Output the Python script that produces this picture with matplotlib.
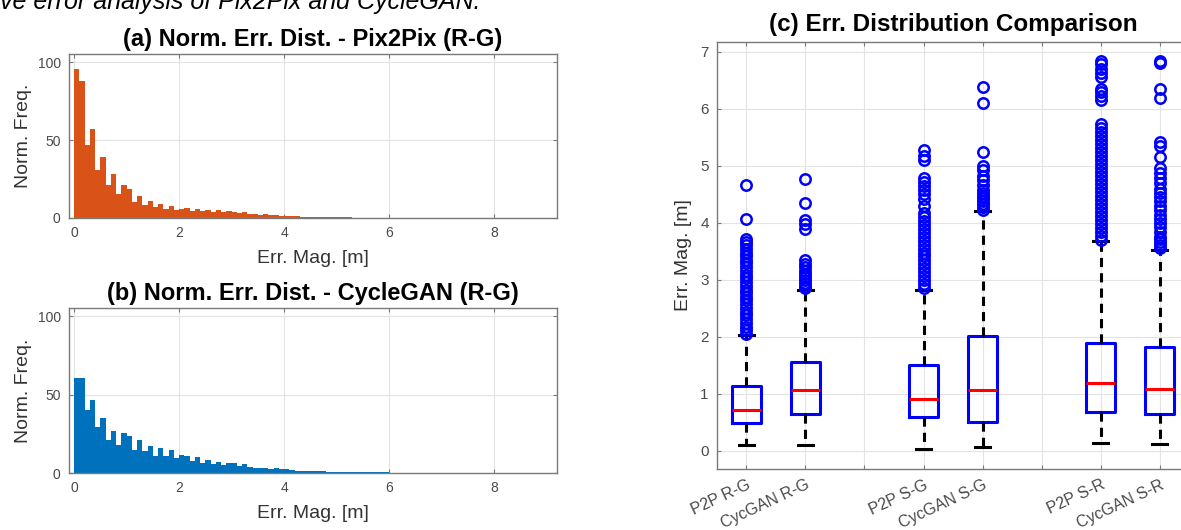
import numpy as np
import matplotlib
matplotlib.use("Agg")
import matplotlib.pyplot as plt

plt.rcParams['font.family'] = ['Liberation Sans', 'DejaVu Sans']

# =====================================================
# DADOS - HISTOGRAMAS (largura de bin 0.1 m)
# =====================================================
bin_width = 0.1
p2p_rg_freq = [
    95.3, 87.8, 46.5, 57.2, 31.0, 39.0, 21.4, 28.3, 15.6, 21.0,
    18.8, 10.0, 14.3, 8.6, 10.7, 7.0, 9.0, 6.0, 8.0, 5.4,
    6.0, 6.2, 4.6, 5.6, 4.2, 5.2, 4.0, 5.0, 3.8, 4.2,
    3.6, 3.2, 3.6, 2.6, 2.6, 2.2, 2.4, 1.8, 1.7, 1.5,
    1.3, 1.2, 1.0, 0.9, 0.8, 0.8, 0.7, 0.6, 0.6, 0.5,
    0.45, 0.4, 0.35, 0.3, 0.3, 0.25, 0.25, 0.2, 0.2, 0.2,
    0.15, 0.15, 0.15, 0.1, 0.1, 0.1, 0.1, 0.08, 0.08, 0.08,
    0.05, 0.05, 0.05, 0.05, 0.05, 0.05, 0.05, 0.05, 0.05, 0.05,
    0.03, 0.03, 0.03, 0.03, 0.03, 0.03, 0.03, 0.03, 0.03, 0.03, 0.03,
]
cyc_rg_freq = [
    60.7, 60.7, 40.0, 46.8, 29.2, 34.9, 21.2, 26.9, 18.1, 25.4,
    23.3, 14.9, 21.2, 13.9, 17.0, 11.1, 16.0, 10.7, 14.5, 9.7,
    11.5, 11.0, 7.5, 10.0, 6.5, 8.0, 5.5, 6.8, 5.0, 6.5,
    6.5, 4.2, 6.0, 3.6, 3.5, 3.0, 3.2, 2.4, 3.0, 2.4,
    2.6, 2.2, 1.4, 1.3, 1.2, 1.1, 1.0, 1.0, 0.9, 0.9,
    0.8, 0.8, 0.7, 0.7, 0.6, 0.6, 0.5, 0.5, 0.5, 0.4,
    0.3, 0.2, 0.15, 0.1, 0.1, 0.08, 0.08, 0.06, 0.06, 0.05,
    0.04, 0.04, 0.04, 0.04, 0.04, 0.04, 0.04, 0.04, 0.04, 0.04,
    0.03, 0.03, 0.03, 0.03, 0.03, 0.03, 0.03, 0.03, 0.03, 0.03, 0.03,
]

# =====================================================
# DADOS - BOXPLOT
# =====================================================
box_labels = ['P2P R-G', 'CycGAN R-G', 'P2P S-G', 'CycGAN S-G', 'P2P S-R', 'CycGAN S-R']
box_pos = [1, 2, 4, 5, 7, 8]
tick_pos = [1, 2, 3, 4, 5, 6, 7, 8]
tick_labels = ['P2P R-G', 'CycGAN R-G', '', 'P2P S-G', 'CycGAN S-G', '', 'P2P S-R', 'CycGAN S-R']

q1 = [0.49, 0.65, 0.60, 0.51, 0.68, 0.65]
med = [0.72, 1.06, 0.91, 1.06, 1.19, 1.08]
q3 = [1.14, 1.55, 1.51, 2.02, 1.89, 1.82]
whis_lo = [0.10, 0.10, 0.03, 0.06, 0.14, 0.12]
whis_hi = [2.03, 2.83, 2.82, 4.20, 3.68, 3.53]

outliers = [
    [2.05, 2.12, 2.18, 2.25, 2.31, 2.38, 2.44, 2.51, 2.57, 2.64, 2.70, 2.77, 2.83,
     2.90, 2.96, 3.03, 3.09, 3.16, 3.22, 3.29, 3.35, 3.42, 3.48, 3.55, 3.61, 3.66,
     3.72, 4.07, 4.67],
    [2.85, 2.90, 2.95, 3.00, 3.05, 3.10, 3.15, 3.22, 3.28, 3.35, 3.90, 3.98, 4.05,
     4.35, 4.77],
    [2.85, 2.92, 2.99, 3.06, 3.13, 3.20, 3.27, 3.34, 3.41, 3.48, 3.55, 3.62, 3.69,
     3.76, 3.83, 3.90, 3.97, 4.04, 4.11, 4.18, 4.30, 4.42, 4.50, 4.58, 4.65, 4.72,
     4.79, 5.10, 5.18, 5.28],
    [4.23, 4.28, 4.33, 4.38, 4.43, 4.48, 4.53, 4.58, 4.66, 4.75, 4.83, 4.92, 4.99,
     5.24, 6.10, 6.38],
    [3.70, 3.77, 3.84, 3.91, 3.98, 4.05, 4.12, 4.19, 4.26, 4.33, 4.40, 4.47, 4.54,
     4.61, 4.68, 4.75, 4.82, 4.89, 4.96, 5.03, 5.10, 5.17, 5.24, 5.31, 5.38, 5.45,
     5.52, 5.59, 5.66, 5.73, 6.16, 6.22, 6.29, 6.35, 6.56, 6.63, 6.70, 6.78, 6.85],
    [3.56, 3.61, 3.66, 3.71, 3.76, 3.84, 3.92, 3.99, 4.06, 4.14, 4.22, 4.30, 4.38,
     4.46, 4.53, 4.60, 4.70, 4.78, 4.87, 4.97, 5.15, 5.35, 5.42, 6.20, 6.35, 6.80,
     6.85],
]

AXIS_GRAY = '#7a7a7a'
TICK_GRAY = '#4a4a4a'
GRID_GRAY = '#e3e3e3'


def estilo_matlab(ax, fs_tick):
    ax.set_axisbelow(True)
    ax.grid(True, color=GRID_GRAY, linewidth=0.8)
    for sp in ax.spines.values():
        sp.set_color(AXIS_GRAY)
        sp.set_linewidth(1.0)
    ax.tick_params(direction='in', length=3, width=0.8, color=AXIS_GRAY,
                   top=True, right=True, labelsize=fs_tick, labelcolor=TICK_GRAY, pad=6)


fig = plt.figure(figsize=(11.81, 5.30), dpi=100)

# legenda da figura, cortada na borda de cima
fig.text(0.0, 1 - 9 / 530, 've error analysis of Pix2Pix and CycleGAN.',
         fontsize=18, style='italic', ha='left', va='baseline', color='black')

# =====================================================
# (a) e (b) HISTOGRAMAS
# =====================================================
hist_panels = [
    ([0.0584, 0.5887, 0.4132, 0.309], p2p_rg_freq, '#D95319',
     '(a) Norm. Err. Dist. - Pix2Pix (R-G)'),
    ([0.0584, 0.1075, 0.4132, 0.311], cyc_rg_freq, '#0072BD',
     '(b) Norm. Err. Dist. - CycleGAN (R-G)'),
]
for rect, freq, cor, titulo in hist_panels:
    ax = fig.add_axes(rect)
    edges = np.arange(len(freq) + 1) * bin_width
    ax.stairs(freq, edges, fill=True, color=cor, linewidth=0)
    ax.set_xlim(-0.1, 9.2)
    ax.set_ylim(0, 105)
    ax.set_xticks([0, 2, 4, 6, 8])
    ax.set_yticks([0, 50, 100])
    estilo_matlab(ax, 10)
    ax.set_xlabel('Err. Mag. [m]', fontsize=14, color='#333333', labelpad=7)
    ax.set_ylabel('Norm. Freq.', fontsize=14, color='#333333', labelpad=4)
    ax.set_title(titulo, fontsize=17, fontweight='bold', pad=6)

# =====================================================
# (c) BOXPLOT
# =====================================================
axc = fig.add_axes([0.6071, 0.1151, 0.3997, 0.8062])
stats = []
for i in range(len(box_labels)):
    stats.append({'label': box_labels[i], 'q1': q1[i], 'med': med[i], 'q3': q3[i],
                  'whislo': whis_lo[i], 'whishi': whis_hi[i], 'fliers': outliers[i]})

axc.bxp(stats, positions=box_pos, widths=0.5, capwidths=0.25, showfliers=True,
        boxprops=dict(color='#0000ff', linewidth=2.2),
        medianprops=dict(color='#ff0000', linewidth=2.2),
        whiskerprops=dict(color='black', linewidth=2.2, linestyle=(0, (3, 2))),
        capprops=dict(color='black', linewidth=2.2),
        flierprops=dict(marker='o', markerfacecolor='none', markeredgecolor='#0000ff',
                        markersize=7.5, markeredgewidth=1.8, linestyle='none'))

axc.set_xlim(0.5, 8.5)
axc.set_ylim(-0.32, 7.18)
axc.set_yticks(range(0, 8))
axc.set_xticks(tick_pos)
estilo_matlab(axc, 11)
axc.set_xticklabels(tick_labels, rotation=25, ha='right', va='top',
                    rotation_mode='anchor', fontsize=11.5)
axc.set_ylabel('Err. Mag. [m]', fontsize=14, color='#333333', labelpad=6)
axc.set_title('(c) Err. Distribution Comparison', fontsize=17.5, fontweight='bold', pad=8)

fig.savefig('out.png', dpi=100)
